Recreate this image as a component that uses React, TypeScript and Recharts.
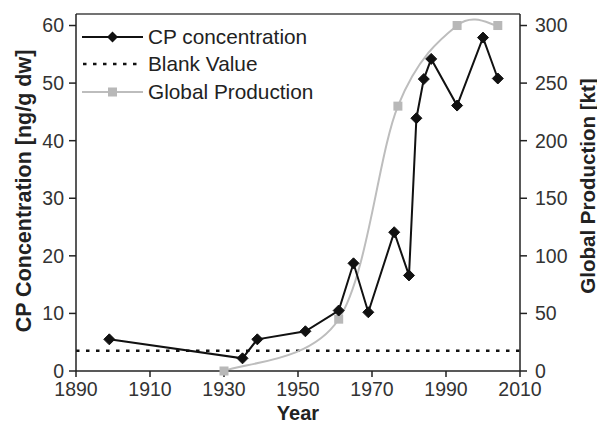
import { ComposedChart, Line, XAxis, YAxis, ReferenceLine, Legend } from "recharts"

const cpYears = [1899, 1935, 1939, 1952, 1961, 1965, 1969, 1976, 1980, 1982, 1984, 1986, 1993, 2000, 2004]
const cpValues = [5.5, 2.2, 5.5, 6.9, 10.5, 18.7, 10.2, 24.1, 16.6, 43.9, 50.7, 54.2, 46.1, 57.9, 50.8]

const prodYears = [1930, 1961, 1977, 1993, 2004]
const prodValues = [0, 45, 230, 300, 300]

const blankValue = 3.5

const xTicks = [1890, 1910, 1930, 1950, 1970, 1990, 2010]
const leftTicks = [0, 10, 20, 30, 40, 50, 60]
const rightTicks = [0, 50, 100, 150, 200, 250, 300]

// merge both series into one table keyed by year
const allYears = Array.from(new Set([...cpYears, ...prodYears])).sort((a, b) => a - b)
const data = allYears.map((year) => {
  const ci = cpYears.indexOf(year)
  const pi = prodYears.indexOf(year)
  return {
    year,
    cp: ci >= 0 ? cpValues[ci] : null,
    prod: pi >= 0 ? prodValues[pi] : null,
  }
})

const FONT = "'Liberation Sans', Arial, sans-serif"

// Excel-like smoothed line (Catmull-Rom as bezier segments)
const excelSmooth = (context: any) => {
  let pts: [number, number][] = []
  return {
    areaStart() {},
    areaEnd() {},
    lineStart() {
      pts = []
    },
    lineEnd() {
      if (!pts.length) return
      context.moveTo(pts[0][0], pts[0][1])
      for (let i = 0; i < pts.length - 1; i++) {
        const p0 = pts[Math.max(i - 1, 0)]
        const p1 = pts[i]
        const p2 = pts[i + 1]
        const p3 = pts[Math.min(i + 2, pts.length - 1)]
        context.bezierCurveTo(
          p1[0] + (p2[0] - p0[0]) / 6,
          p1[1] + (p2[1] - p0[1]) / 6,
          p2[0] - (p3[0] - p1[0]) / 6,
          p2[1] - (p3[1] - p1[1]) / 6,
          p2[0],
          p2[1]
        )
      }
    },
    point(x: number, y: number) {
      pts.push([x, y])
    },
  }
}

const Diamond = (props: any) => {
  const { cx, cy, index } = props
  if (cx == null || cy == null) return <g key={`d-${index}`} />
  const r = 5.5
  return (
    <path
      key={`d-${index}`}
      d={`M${cx},${cy - r}L${cx + r},${cy}L${cx},${cy + r}L${cx - r},${cy}Z`}
      fill="#111"
      stroke="#111"
    />
  )
}

const Square = (props: any) => {
  const { cx, cy, index } = props
  if (cx == null || cy == null) return <g key={`s-${index}`} />
  return <rect key={`s-${index}`} x={cx - 4.5} y={cy - 4.5} width={9} height={9} fill="#b8b8b8" />
}

const LegendBox = () => {
  const row = { display: "flex", alignItems: "center", height: 27.5 }
  const txt = { fontFamily: FONT, fontSize: 20.8, color: "#222", marginLeft: 5, whiteSpace: "nowrap" as const }
  return (
    <div>
      <div style={row}>
        <svg width={61} height={14}>
          <line x1={0} y1={7} x2={61} y2={7} stroke="#111" strokeWidth={2} />
          <path d="M30.5,1.5L36,7L30.5,12.5L25,7Z" fill="#111" />
        </svg>
        <span style={txt}>CP concentration</span>
      </div>
      <div style={row}>
        <svg width={61} height={14}>
          <line x1={1} y1={7} x2={61} y2={7} stroke="#111" strokeWidth={2.5} strokeDasharray="3.5 6.5" />
        </svg>
        <span style={txt}>Blank Value</span>
      </div>
      <div style={row}>
        <svg width={61} height={14}>
          <line x1={0} y1={7} x2={61} y2={7} stroke="#bdbdbd" strokeWidth={2} />
          <rect x={26} y={2.5} width={9} height={9} fill="#b8b8b8" />
        </svg>
        <span style={txt}>Global Production</span>
      </div>
    </div>
  )
}

const tickStyle = { fontFamily: FONT, fontSize: 19.5, fill: "#333" }

export default function App() {
  return (
    <div style={{ position: "absolute", left: 0, top: 0, width: 597, height: 423, background: "#fff" }}>
      <ComposedChart width={597} height={423} data={data} margin={{ top: 14, right: 20, bottom: 0, left: 20 }}>
        <XAxis
          dataKey="year"
          type="number"
          domain={[1890, 2010]}
          ticks={xTicks}
          height={52}
          stroke="#222"
          strokeWidth={1.5}
          tickSize={6}
          tickMargin={5}
          tick={tickStyle}
          label={() => (
            <text x={298} y={420} textAnchor="middle" fontFamily={FONT} fontSize={20} fontWeight="bold" fill="#222">
              Year
            </text>
          )}
        />
        <YAxis
          yAxisId="left"
          domain={[0, 62]}
          ticks={leftTicks}
          width={56}
          stroke="#222"
          strokeWidth={1.5}
          tickSize={7}
          tickMargin={5}
          tick={tickStyle}
          label={() => (
            <text
              x={24}
              y={191}
              transform="rotate(-90, 24, 191)"
              textAnchor="middle"
              dominantBaseline="central"
              fontFamily={FONT}
              fontSize={21.5}
              fontWeight="bold"
              fill="#222"
            >
              CP Concentration [ng/g dw]
            </text>
          )}
        />
        <YAxis
          yAxisId="right"
          orientation="right"
          domain={[0, 310]}
          ticks={rightTicks}
          width={57}
          stroke="#222"
          strokeWidth={1.5}
          tickSize={7}
          tickMargin={8}
          tick={tickStyle}
          label={() => (
            <text
              x={587}
              y={186}
              transform="rotate(-90, 587, 186)"
              textAnchor="middle"
              dominantBaseline="central"
              fontFamily={FONT}
              fontSize={20.5}
              fontWeight="bold"
              fill="#222"
            >
              Global Production [kt]
            </text>
          )}
        />
        <ReferenceLine yAxisId="left" y={62} stroke="#444" strokeWidth={1.5} />
        <ReferenceLine yAxisId="left" y={blankValue} stroke="#111" strokeWidth={2.5} strokeDasharray="3.5 6.5" />
        <Legend
          layout="vertical"
          align="center"
          verticalAlign="middle"
          wrapperStyle={{ left: 82, top: 23, width: 280 }}
          content={() => <LegendBox />}
        />
        <Line
          yAxisId="right"
          dataKey="prod"
          type={excelSmooth as any}
          stroke="#bdbdbd"
          strokeWidth={2}
          dot={Square}
          activeDot={false}
          connectNulls
          isAnimationActive={false}
        />
        <Line
          yAxisId="left"
          dataKey="cp"
          type="linear"
          stroke="#111"
          strokeWidth={2}
          dot={Diamond}
          activeDot={false}
          connectNulls
          isAnimationActive={false}
        />
      </ComposedChart>
    </div>
  )
}
